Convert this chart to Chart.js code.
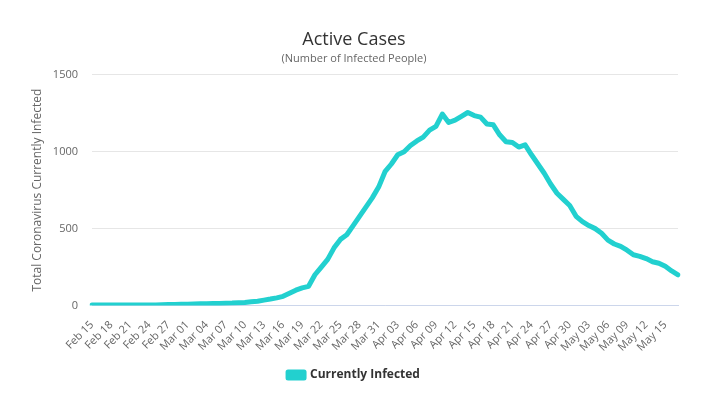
<!DOCTYPE html>
<html>
<head>
<meta charset="utf-8">
<script src="https://cdn.jsdelivr.net/npm/chart.js@4/dist/chart.umd.min.js"></script>
<style>
  html, body { margin: 0; padding: 0; background: #fff; }
  #wrap { width: 705px; height: 399px; }
</style>
</head>
<body>
<div id="wrap"><canvas id="chartActive"></canvas></div>
<script>
const FONT = "'Open Sans', 'DejaVu Sans', sans-serif";

// one label per day, Feb 15 -> May 17 (2020)
const dates = [
  "Feb 15", "Feb 16", "Feb 17", "Feb 18", "Feb 19", "Feb 20", "Feb 21", "Feb 22", "Feb 23", "Feb 24",
  "Feb 25", "Feb 26", "Feb 27", "Feb 28", "Feb 29", "Mar 01", "Mar 02", "Mar 03", "Mar 04", "Mar 05",
  "Mar 06", "Mar 07", "Mar 08", "Mar 09", "Mar 10", "Mar 11", "Mar 12", "Mar 13", "Mar 14", "Mar 15",
  "Mar 16", "Mar 17", "Mar 18", "Mar 19", "Mar 20", "Mar 21", "Mar 22", "Mar 23", "Mar 24", "Mar 25",
  "Mar 26", "Mar 27", "Mar 28", "Mar 29", "Mar 30", "Mar 31", "Apr 01", "Apr 02", "Apr 03", "Apr 04",
  "Apr 05", "Apr 06", "Apr 07", "Apr 08", "Apr 09", "Apr 10", "Apr 11", "Apr 12", "Apr 13", "Apr 14",
  "Apr 15", "Apr 16", "Apr 17", "Apr 18", "Apr 19", "Apr 20", "Apr 21", "Apr 22", "Apr 23", "Apr 24",
  "Apr 25", "Apr 26", "Apr 27", "Apr 28", "Apr 29", "Apr 30", "May 01", "May 02", "May 03", "May 04",
  "May 05", "May 06", "May 07", "May 08", "May 09", "May 10", "May 11", "May 12", "May 13", "May 14",
  "May 15", "May 16", "May 17",
];

// roughly
const currentlyInfected = [
  3, 3, 3, 3, 3, 3, 3, 3, 3, 3,
  4, 5, 6, 7, 8, 9, 10, 11, 12, 13,
  14, 15, 16, 18, 20, 24, 28, 35, 42, 50,
  60, 80, 100, 115, 125, 200, 250, 300, 375, 430,
  460, 520, 580, 640, 700, 770, 870, 920, 980, 1000,
  1040, 1070, 1095, 1140, 1165, 1245, 1190, 1205, 1230, 1255,
  1235, 1225, 1180, 1175, 1110, 1065, 1060, 1030, 1045, 980,
  920, 860, 790, 730, 690, 650, 580, 545, 520, 500,
  470, 425, 400, 385, 360, 330, 320, 305, 285, 275,
  255, 225, 200,
];

const yTicks = [0, 500, 1000, 1500];
const LABEL_EVERY = 3; // "Feb 15", "Feb 18", ...

new Chart(document.getElementById("chartActive"), {
  type: "line",
  data: {
    labels: dates,
    datasets: [
      {
        label: "Currently Infected",
        data: currentlyInfected,
        borderColor: "#22d0cf",
        backgroundColor: "#22d0cf",
        borderWidth: 5,
        borderJoinStyle: "round",
        borderCapStyle: "round",
        pointRadius: 0,
        tension: 0,
      },
    ],
  },
  options: {
    animation: false,
    responsive: true,
    maintainAspectRatio: false,
    layout: { padding: { top: 29, right: 27, bottom: 8, left: 30 } },
    plugins: {
      title: {
        display: true,
        text: "Active Cases",
        color: "#333333",
        font: { family: FONT, size: 18, weight: "normal" },
        padding: { top: 0, bottom: 2 },
      },
      subtitle: {
        display: true,
        text: "(Number of Infected People)",
        color: "#666666",
        font: { family: FONT, size: 11 },
        padding: { top: 0, bottom: 9 },
      },
      legend: {
        position: "bottom",
        labels: {
          color: "#333333",
          font: { family: FONT, size: 12, weight: "bold" },
          boxWidth: 16,
          boxHeight: 6,
          padding: 10,
        },
      },
      tooltip: { enabled: false },
    },
    scales: {
      x: {
        grid: { display: false },
        border: { color: "#ccd6eb" },
        // the rotated first label would otherwise push the plot to the right
        afterFit: (scale) => {
          scale.paddingLeft = 0;
        },
        ticks: {
          autoSkip: false,
          minRotation: 45,
          maxRotation: 45,
          color: "#666666",
          font: { family: FONT, size: 11 },
          padding: 5,
          callback: (v, i) => (i % LABEL_EVERY === 0 ? dates[i] : null),
        },
      },
      y: {
        min: 0,
        max: 1500,
        afterBuildTicks: (axis) => {
          axis.ticks = yTicks.map((v) => ({ value: v }));
        },
        afterFit: (axis) => {
          axis.width = 62;
        },
        grid: { color: "#e6e6e6", drawTicks: false },
        border: { display: false },
        title: {
          display: true,
          text: "Total Coronavirus Currently Infected",
          color: "#666666",
          font: { family: FONT, size: 12 },
          padding: { top: 0, bottom: 7 },
        },
        ticks: {
          color: "#666666",
          font: { family: FONT, size: 11 },
          padding: 14,
          callback: (v) => String(v),
        },
      },
    },
  },
});
</script>
</body>
</html>
